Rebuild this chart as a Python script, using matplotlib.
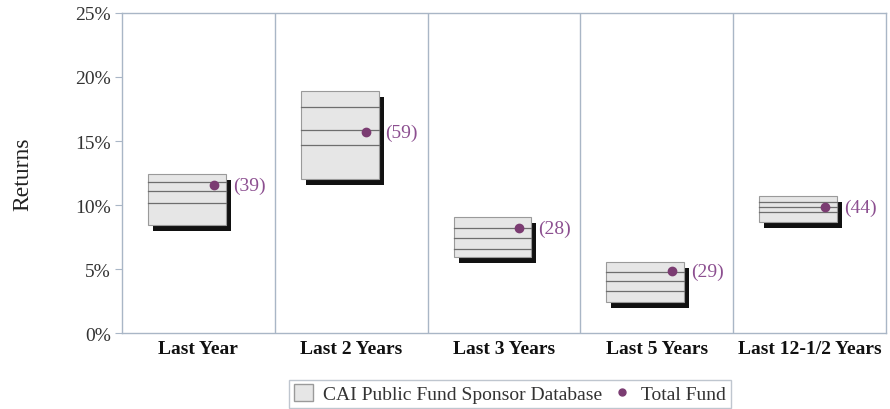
import matplotlib
matplotlib.use("Agg")
import matplotlib.pyplot as plt
from matplotlib.patches import Rectangle, Patch
from matplotlib.lines import Line2D
import matplotlib.transforms as mtransforms

plt.rcParams['font.family'] = ['Liberation Serif', 'DejaVu Serif']

categories = ["Last Year", "Last 2 Years", "Last 3 Years", "Last 5 Years", "Last 12-1/2 Years"]
# percentiles: 10th (top), 25th, median, 75th, 90th (bottom)
p10 = [12.4, 18.9, 9.05, 5.55, 10.7]
p25 = [11.8, 17.65, 8.2, 4.8, 10.25]
p50 = [11.1, 15.85, 7.4, 4.05, 9.85]
p75 = [10.2, 14.7, 6.55, 3.3, 9.45]
p90 = [8.45, 12.0, 5.95, 2.4, 8.7]
total_fund = [11.55, 15.7, 8.2, 4.85, 9.85]
ranks = ["(39)", "(59)", "(28)", "(29)", "(44)"]
yticks = [0, 5, 10, 15, 20, 25]

spine_col = "#a9b6c6"
purple = "#7b3c72"
label_col = "#8c4f90"

fig = plt.figure(figsize=(8.9, 4.1), dpi=100)
ax = fig.add_axes([0.137, 0.185, 0.8585, 0.781])
ax.set_xlim(0, 5)
ax.set_ylim(0, 25)

shadow_tr = mtransforms.offset_copy(ax.transData, fig=fig, x=5, y=-6, units='dots')

for i in range(len(categories)):
    x0, x1 = i + 0.17, i + 0.68
    top, bot = p10[i], p90[i]
    ax.add_patch(Rectangle((x0, bot), x1 - x0, top - bot, facecolor="#111111",
                           edgecolor="none", transform=shadow_tr, zorder=2))
    ax.add_patch(Rectangle((x0, bot), x1 - x0, top - bot, facecolor="#e6e6e6",
                           edgecolor="#9a9a9a", lw=0.8, zorder=3))
    for v in (p25[i], p50[i], p75[i]):
        ax.plot([x0, x1], [v, v], color="#6e6e6e", lw=0.9, zorder=4)
    ax.plot(i + 0.6, total_fund[i], 'o', color=purple, ms=6, zorder=5)
    ax.text(i + 0.725, total_fund[i], ranks[i], color=label_col, fontsize=14,
            va='center', ha='left', zorder=5)

for s in range(1, 5):
    ax.axvline(s, color=spine_col, lw=1.0, zorder=1)

for sp in ax.spines.values():
    sp.set_color(spine_col)
    sp.set_linewidth(1.0)

ax.set_yticks(yticks)
ax.set_yticklabels([f"{t}%" for t in yticks], fontsize=14, color="#333333")
ax.tick_params(axis='y', direction='out', length=5, color=spine_col, pad=3)
ax.set_xticks([i + 0.5 for i in range(len(categories))])
ax.set_xticklabels(categories, fontsize=14, fontweight='bold', color="#111111")
ax.tick_params(axis='x', length=0, pad=5)
ax.set_ylabel("Returns", fontsize=17, color="#222222", labelpad=30)

handles = [Patch(facecolor="#e6e6e6", edgecolor="#9a9a9a", hatch=None),
           Line2D([], [], marker='o', color='none', markerfacecolor=purple,
                  markeredgecolor=purple, ms=5)]
leg = fig.legend(handles, ["CAI Public Fund Sponsor Database", "Total Fund"],
                 loc='center', bbox_to_anchor=(0.573, 0.037), ncol=2, fontsize=14,
                 frameon=True, fancybox=False, handlelength=1.0, handleheight=0.9,
                 handletextpad=0.5, columnspacing=0.5, borderpad=0.25)
leg.get_frame().set_edgecolor("#b0b8c4")
leg.get_frame().set_linewidth(1.0)
for t in leg.get_texts():
    t.set_color("#333333")

fig.savefig("out.png", dpi=100)
